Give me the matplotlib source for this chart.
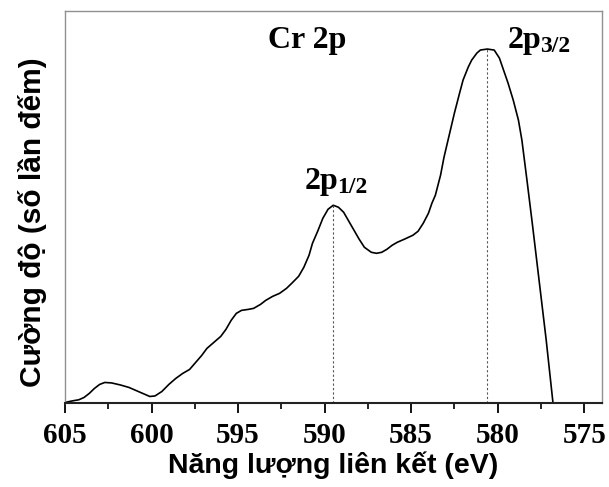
import matplotlib
matplotlib.use("Agg")
from matplotlib import pyplot as plt
from matplotlib.ticker import MultipleLocator

# binding energy (eV) and intensity (arb. units)
energy = [605.0, 604.6, 604.2, 603.9, 603.6, 603.3, 603.0, 602.7, 602.3, 601.8,
          601.3, 600.9, 600.5, 600.1, 599.8, 599.4, 599.0, 598.6, 598.2, 597.8,
          597.5, 597.1, 596.8, 596.4, 596.0, 595.7, 595.4, 595.1, 594.8, 594.4,
          594.1, 593.7, 593.4, 593.0, 592.6, 592.2, 591.9, 591.5, 591.2, 590.9,
          590.7, 590.4, 590.1, 589.8, 589.5, 589.2, 588.9, 588.6, 588.3, 588.0,
          587.7, 587.3, 587.0, 586.7, 586.4, 586.1, 585.8, 585.4, 584.9, 584.6,
          584.3, 584.0, 583.8, 583.6, 583.3, 583.1, 582.8, 582.5, 582.2, 582.0,
          581.7, 581.5, 581.2, 581.0, 580.6, 580.2, 579.9, 579.7, 579.4, 579.1,
          578.8, 578.6, 578.3, 578.0, 577.6, 577.2, 576.8]
counts = [1, 2.5, 3.7, 6, 10, 15, 19, 21, 20.5, 18.5,
          16, 13, 10, 7, 7.5, 12, 19, 25, 30, 34,
          40, 48, 55, 61, 67, 74, 83, 90, 93, 94,
          95, 99, 103, 107, 110, 115, 120, 127, 136, 148,
          160, 172, 185, 194, 198, 196, 191, 182, 173, 164,
          156, 151, 150, 151, 154, 158, 161, 164, 168, 172,
          180, 190, 200, 208, 228, 246, 268, 290, 310, 323,
          336, 343, 350, 353, 354, 353, 345, 335, 320, 303,
          283, 263, 222, 180, 122, 64, 0]

peak_pos = [589.5, 580.6]
peak_val = [198, 354]

serif = dict(family="Liberation Serif", weight="bold")

fig = plt.figure(figsize=(6.09, 4.87), dpi=100)
ax = fig.add_axes([0.1067, 0.1715, 0.8810, 0.8059])

ax.plot(energy, counts, color="black", lw=1.2)
ax.vlines(peak_pos, 0, peak_val, colors="#555555", linestyles=(0, (2, 2)), lw=0.8)

ax.text(591.0, 355, "Cr 2p", fontsize=23, ha="center", va="baseline", **serif)


def peak_label(x, y, sub):
    t = ax.text(x, y, "2p", fontsize=23, ha="left", va="baseline", **serif)
    fig.canvas.draw()
    w = t.get_window_extent().width * 72 / fig.dpi
    ax.annotate(sub, xy=(x, y), xytext=(w - 1, -3), textcoords="offset points",
                fontsize=17, ha="left", va="baseline", **serif)


peak_label(579.4, 355, "3/2")
peak_label(591.15, 214, "1/2")

ax.set_xlim(605, 574)
ax.set_ylim(0, 392)
ax.xaxis.set_major_locator(MultipleLocator(5))
ax.xaxis.set_minor_locator(MultipleLocator(2.5))
ax.set_yticks([])
ax.tick_params(axis="x", which="major", direction="out", length=7, width=1.3, pad=6)
ax.tick_params(axis="x", which="minor", direction="out", length=4.5, width=1.2)
for lbl in ax.get_xticklabels():
    lbl.set_family("Liberation Serif")
    lbl.set_weight("bold")
    lbl.set_fontsize(21)

for s in ["top", "right", "left"]:
    ax.spines[s].set_color("#909090")
    ax.spines[s].set_linewidth(1.0)
ax.spines["bottom"].set_color("#222222")
ax.spines["bottom"].set_linewidth(1.5)

ax.set_xlabel("Năng lượng liên kết (eV)", family="Liberation Sans", weight="bold",
              fontsize=20.5, labelpad=2)
ax.set_ylabel("Cường độ (số lần đếm)", family="Liberation Sans", weight="bold",
              fontsize=21.5)
ax.yaxis.set_label_coords(-0.034, 0.462)

fig.savefig("out.png", dpi=100)
